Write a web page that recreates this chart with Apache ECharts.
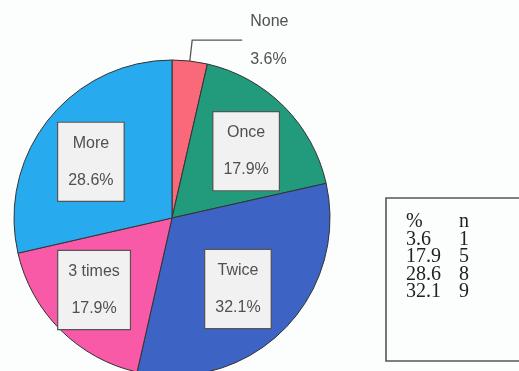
<!DOCTYPE html>
<html>
<head>
<meta charset="utf-8">
<script src="https://cdn.jsdelivr.net/npm/echarts@6/dist/echarts.min.js"></script>
<style>
  html, body { margin: 0; padding: 0; background: #fcfdfd; }
  #chart { width: 519px; height: 371px; }
</style>
</head>
<body>
<div id="chart"></div>
<script>
// Frequency categories, clockwise from 12 o'clock
const categories = ['None', 'Once', 'Twice', '3 times', 'More'];
const percents = [3.6, 17.9, 32.1, 17.9, 28.6];
const sliceColors = ['#f9697a', '#229a7c', '#3d63c4', '#f85aa8', '#28aaee'];
// Per-label nudges so the boxed labels sit where they read best
const labelOffsets = [null, [16, -9], [8, 13], [-20, 14], [-17, -5]];

// Summary table on the right
const tableHeader = ['%', 'n'];
const tablePercent = ['3.6', '17.9', '28.6', '32.1'];
const tableCount = ['1', '5', '8', '9'];

const chart = echarts.init(document.getElementById('chart'), null, { renderer: 'canvas' });

const labelFont = 'Liberation Sans, Arial, sans-serif';

const boxLabel = {
  show: true,
  position: 'inside',
  formatter: p => p.name + '\n' + p.value.toFixed(1) + '%',
  fontFamily: labelFont,
  fontSize: 16,
  color: '#505050',
  lineHeight: 37,
  align: 'center',
  backgroundColor: '#f1f1f1',
  borderColor: '#555',
  borderWidth: 1.2,
  padding: [2, 10]
};

const data = categories.map((name, i) => {
  const item = {
    name: name,
    value: percents[i],
    itemStyle: { color: sliceColors[i] }
  };
  if (i === 0) {
    item.label = {
      show: true,
      position: 'outside',
      formatter: p => p.name + '\n' + p.value.toFixed(1) + '%',
      fontFamily: labelFont,
      fontSize: 16,
      color: '#505050',
      lineHeight: 38,
      align: 'left',
      distanceToLabelLine: 8
    };
    item.labelLine = {
      show: true,
      length: 21,
      length2: 50,
      lineStyle: { color: '#555', width: 1.3 }
    };
  } else {
    item.label = Object.assign({}, boxLabel, { offset: labelOffsets[i] });
    item.labelLine = { show: false };
  }
  return item;
});

const tableFont = 'Liberation Serif, Times New Roman, serif';
const tableTexts = [];
const rows = [tableHeader].concat(tablePercent.map((p, i) => [p, tableCount[i]]));
rows.forEach((row, r) => {
  tableTexts.push({
    type: 'text', left: 406, top: 212 + r * 17.5,
    style: { text: row[0], font: '20px ' + tableFont, fill: '#222' }
  });
  tableTexts.push({
    type: 'text', left: 459, top: 212 + r * 17.5,
    style: { text: row[1], font: '20px ' + tableFont, fill: '#222' }
  });
});

chart.setOption({
  backgroundColor: '#fcfdfd',
  animation: false,
  series: [{
    type: 'pie',
    center: [172, 218],
    radius: 158,
    startAngle: 90,
    clockwise: true,
    avoidLabelOverlap: false,
    itemStyle: { borderColor: '#333', borderWidth: 1 },
    emphasis: { disabled: true },
    data: data
  }],
  graphic: [{
    type: 'rect',
    shape: { x: 386, y: 198, width: 150, height: 163 },
    style: { fill: '#fcfdfd', stroke: '#555', lineWidth: 1.6 }
  }].concat(tableTexts)
});
</script>
</body>
</html>
